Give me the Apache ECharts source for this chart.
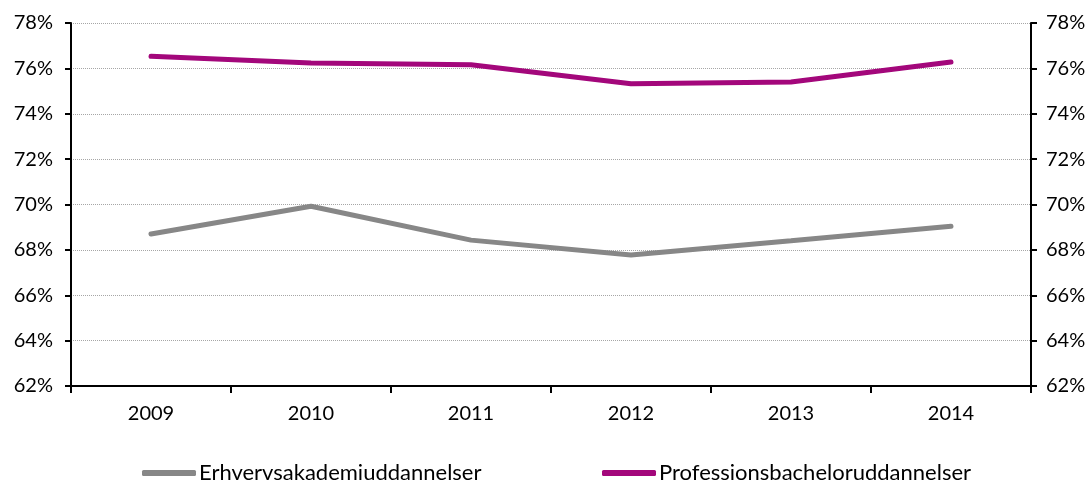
<!DOCTYPE html>
<html><head><meta charset="utf-8">
<script src="https://cdn.jsdelivr.net/npm/echarts@6/dist/echarts.min.js"></script>
<style>html,body{margin:0;padding:0;background:#fff}#c{width:1091px;height:482px}</style>
</head><body><div id="c"></div>
<script>
var categories = ['2009','2010','2011','2012','2013','2014'];
var erhverv = [68.70, 69.92, 68.43, 67.77, 68.40, 69.04];
var profession = [76.53, 76.24, 76.16, 75.32, 75.40, 76.28];
var seriesNames = ['Erhvervsakademiuddannelser','Professionsbacheloruddannelser'];
var FONT = 'Lato, "Open Sans", sans-serif';
var chart = echarts.init(document.getElementById('c'));
function yAxis(pos, margin){
  return {
    type:'value', position:pos, min:62, max:78, interval:2,
    axisLine:{show:true, lineStyle:{color:'#000', width:2}},
    axisTick:{show:true, length:6, lineStyle:{color:'#000', width:2}},
    axisLabel:{formatter:'{value}%', color:'#000', fontSize:20, fontFamily:FONT, margin:margin},
    splitLine:{show:pos==='left', lineStyle:{color:'#a6a6a6', type:'dotted', width:1}}
  };
}
chart.setOption({
  animation:false,
  grid:{left:71, right:60, top:23, bottom:96},
  legend:[
    {data:[seriesNames[0]], left:137, top:457, icon:'roundRect', itemWidth:54, itemHeight:6, itemGap:4,
     textStyle:{fontSize:22, fontFamily:FONT, color:'#000', padding:[0,0,0,-2]}},
    {data:[seriesNames[1]], left:597, top:457, icon:'roundRect', itemWidth:54, itemHeight:6,
     textStyle:{fontSize:22, fontFamily:FONT, color:'#000', padding:[0,0,0,-2]}}
  ],
  xAxis:{type:'category', data:categories, boundaryGap:true,
    axisLine:{lineStyle:{color:'#000', width:2}},
    axisTick:{show:true, length:7, lineStyle:{color:'#000', width:2}},
    axisLabel:{color:'#000', fontSize:20, fontFamily:FONT, margin:18}},
  yAxis:[yAxis('left', 18), yAxis('right', 15)],
  series:[
    {name:seriesNames[0], type:'line', data:erhverv, yAxisIndex:0, symbol:'none',
     lineStyle:{color:'#878787', width:5, cap:'round'}, itemStyle:{color:'#878787'}},
    {name:seriesNames[1], type:'line', data:profession, yAxisIndex:0, symbol:'none',
     lineStyle:{color:'#a3077b', width:5, cap:'round'}, itemStyle:{color:'#a3077b'}}
  ]
});
</script></body></html>
